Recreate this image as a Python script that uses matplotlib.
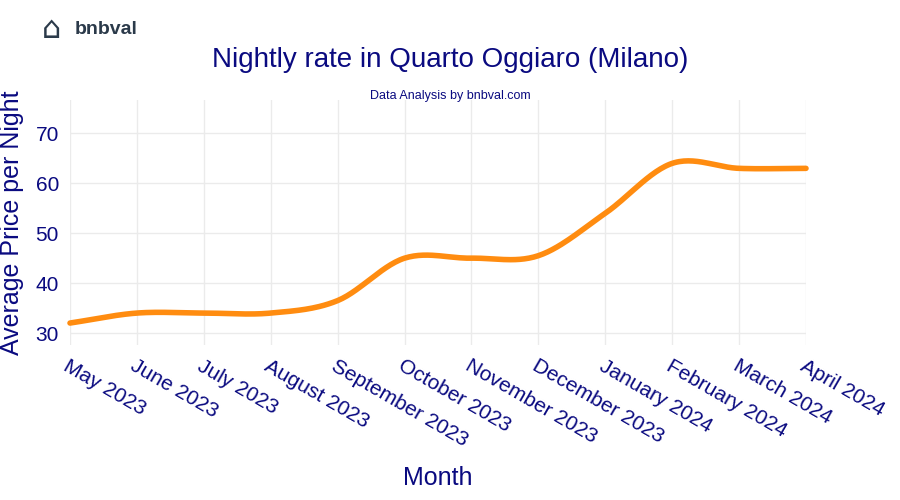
import numpy as np
import matplotlib
matplotlib.use("Agg")
import matplotlib.pyplot as plt

months = ["May 2023","June 2023","July 2023","August 2023","September 2023","October 2023",
          "November 2023","December 2023","January 2024","February 2024","March 2024","April 2024"]
prices = [32, 34, 34, 34, 36.5, 45, 45, 45.5, 54, 64, 63, 63]
yticks = [30, 40, 50, 60, 70]

plt.rcParams["font.family"] = "Liberation Sans"
navy = "#0a0a80"

def catmull(x, y, n=30):
    x = np.asarray(x, float); y = np.asarray(y, float)
    px = np.concatenate([[2*x[0]-x[1]], x, [2*x[-1]-x[-2]]])
    py = np.concatenate([[2*y[0]-y[1]], y, [2*y[-1]-y[-2]]])
    xs, ys = [], []
    t = np.linspace(0, 1, n)
    for i in range(1, len(px)-2):
        for arr, out in ((px, xs), (py, ys)):
            p0, p1, p2, p3 = arr[i-1], arr[i], arr[i+1], arr[i+2]
            out.extend(0.5*((2*p1) + (-p0+p2)*t + (2*p0-5*p1+4*p2-p3)*t**2 + (-p0+3*p1-3*p2+p3)*t**3))
    return np.array(xs), np.array(ys)

fig = plt.figure(figsize=(9, 5), dpi=100)
ax = fig.add_axes([70/900, 1-345/500, 736/900, 245/500])
x = np.arange(len(months))
sx, sy = catmull(x, prices)
ax.plot(sx, sy, color="#ff8c10", lw=4, solid_capstyle="round", clip_on=False)
ax.set_xlim(0, len(months)-1)
ax.set_ylim(27.6, 76.7)
ax.set_yticks(yticks)
ax.set_xticks(x)
ax.set_xticklabels(months, rotation=-30, ha="left", va="top", rotation_mode="anchor",
                   fontsize=15, color=navy)
ax.tick_params(axis="y", labelsize=15, labelcolor=navy, length=0, pad=8)
ax.tick_params(axis="x", length=0, pad=8)
ax.grid(True, color="#ebebeb", lw=1)
for s in ax.spines.values():
    s.set_visible(False)
ax.set_xlabel("Month", fontsize=18, color=navy, labelpad=12)
ax.set_ylabel("Average Price per Night", fontsize=18, color=navy, labelpad=8)
fig.text(0.5, 1-60/500, "Nightly rate in Quarto Oggiaro (Milano)", ha="center", va="center",
         fontsize=20, color=navy)
fig.text(0.5, 1-96/500, "Data Analysis by bnbval.com", ha="center", va="center",
         fontsize=9, color=navy)
fig.text(75/900, 1-30/500, "bnbval", ha="left", va="center", fontsize=14,
         fontweight="bold", color="#2b3a4a")
fig.text(42/900, 1-30/500, "⌂", ha="left", va="center", fontsize=22, color="#2b3a4a",
         fontfamily="DejaVu Sans")
fig.savefig("out.png", dpi=100)
